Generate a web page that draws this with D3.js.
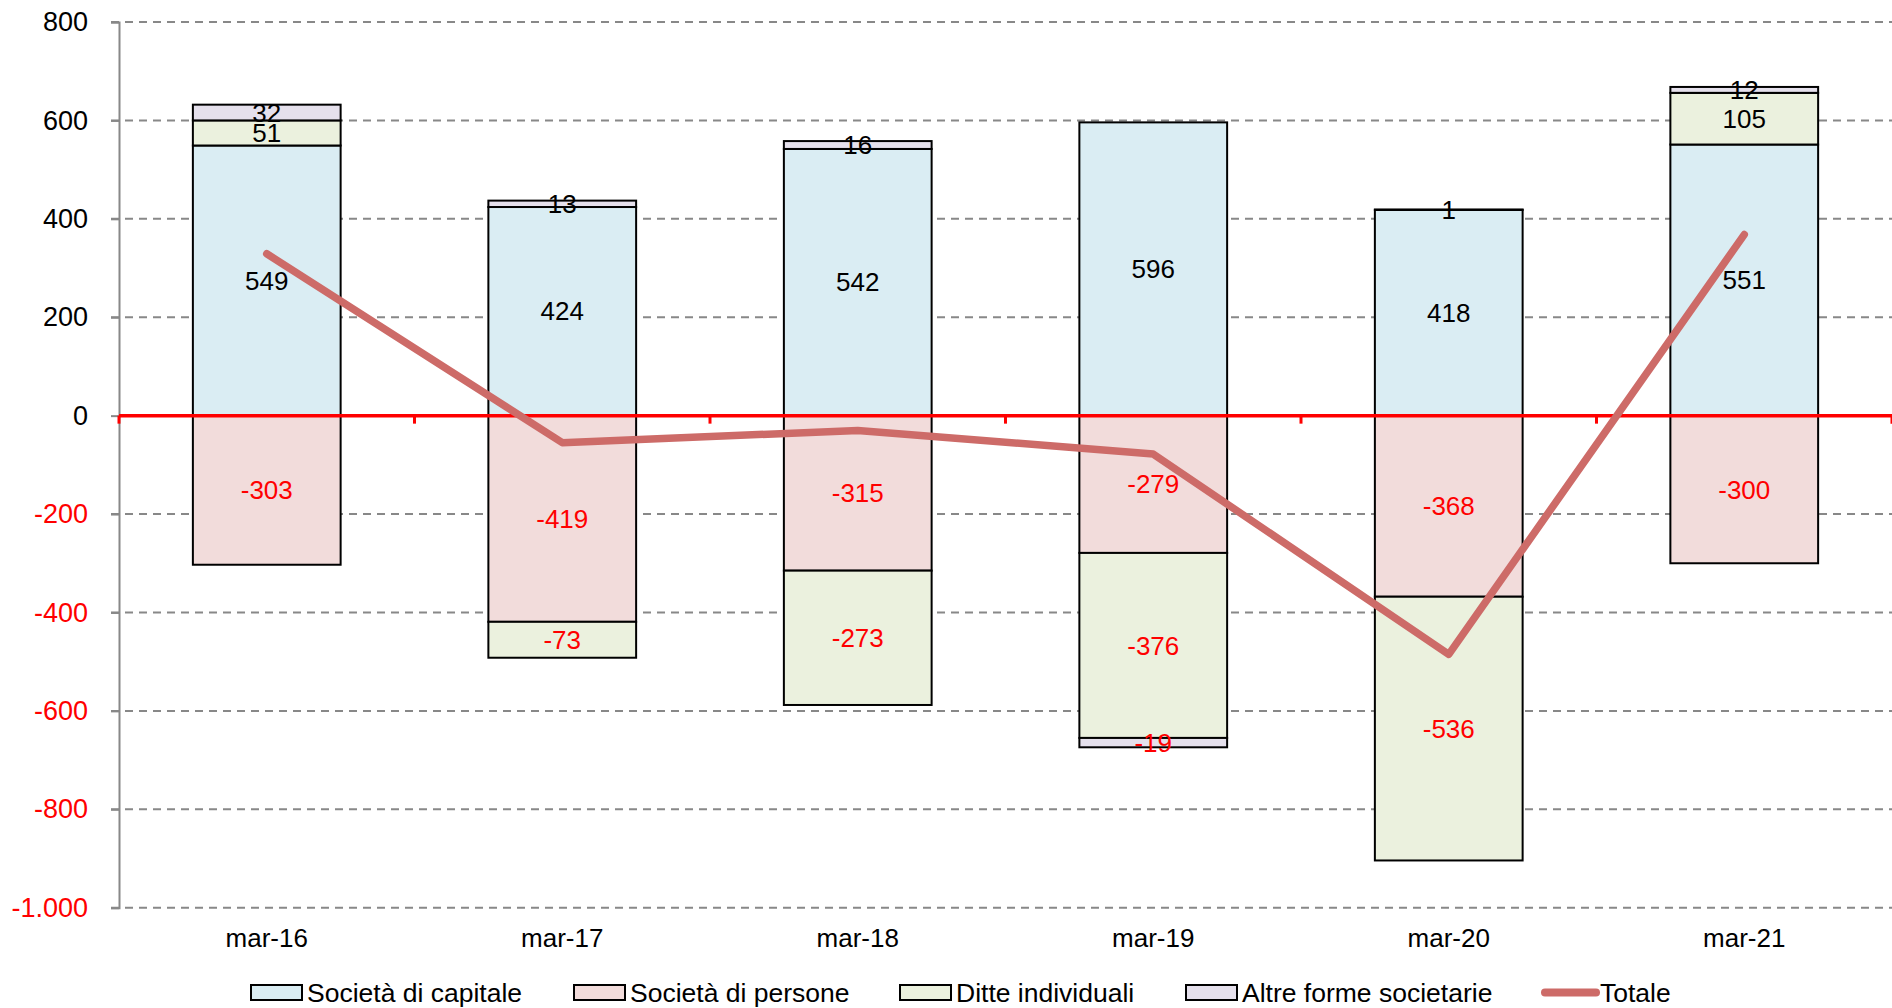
<!DOCTYPE html>
<html>
<head>
<meta charset="utf-8">
<script src="https://cdn.jsdelivr.net/npm/d3@7"></script>
<style>
  body { margin: 0; background: #fff; }
  text { font-family: "Liberation Sans", Arial, sans-serif; }
</style>
</head>
<body>
<div id="chart"></div>
<script>
const categories = ["mar-16", "mar-17", "mar-18", "mar-19", "mar-20", "mar-21"];
const capitale = [549, 424, 542, 596, 418, 551];
const persone = [-303, -419, -315, -279, -368, -300];
const ditte = [51, -73, -273, -376, -536, 105];
const altre = [32, 13, 16, -19, 1, 12];
const totale = [329, -55, -30, -78, -485, 368];
const yTicks = [800, 600, 400, 200, 0, -200, -400, -600, -800, -1000];

const seriesNames = ["Società di capitale", "Società di persone", "Ditte individuali", "Altre forme societarie"];
const seriesColors = ["#daedf3", "#f2dcdb", "#ebf1de", "#e5e0ec"];
const lineColor = "#cd6b68";

const width = 1892, height = 1008;
const margin = { top: 22, right: 0, bottom: 100, left: 119 };
const chartWidth = width - margin.left - margin.right;
const chartHeight = 1008 - margin.top - margin.bottom - 0.3;

const svg = d3.select("#chart").append("svg")
  .attr("width", width)
  .attr("height", height);

const x = d3.scaleBand()
  .domain(categories)
  .range([0, chartWidth])
  .paddingInner(0.5)
  .paddingOuter(0.25);

const y = d3.scaleLinear()
  .domain([-1000, 800])
  .range([chartHeight, 0]);

const chart = svg.append("g")
  .attr("transform", `translate(${margin.left},${margin.top})`);

// grid
chart.append("g")
  .selectAll("line")
  .data(yTicks.filter(d => d !== 0))
  .enter()
  .append("line")
  .attr("x1", -8)
  .attr("x2", chartWidth)
  .attr("y1", d => y(d))
  .attr("y2", d => y(d))
  .attr("stroke", "#888")
  .attr("stroke-width", 2)
  .attr("stroke-dasharray", "8,6");

// y axis
const itFormat = d3.formatLocale({ decimal: ",", thousands: ".", grouping: [3], currency: ["", "€"], minus: "-" }).format(",d");
const yAxis = chart.append("g")
  .call(d3.axisLeft(y).tickValues(yTicks).tickSize(8).tickPadding(23).tickFormat(itFormat));
yAxis.select(".domain").attr("stroke", "#888").attr("stroke-width", 2);
yAxis.selectAll(".tick line").attr("stroke", "#888").attr("stroke-width", 2);
yAxis.selectAll(".tick text")
  .attr("font-size", 27)
  .attr("fill", d => d < 0 ? "red" : "#000");

// stacked bars
const table = categories.map((c, i) => ({
  cat: c, s0: capitale[i], s1: persone[i], s2: ditte[i], s3: altre[i]
}));
const stack = d3.stack()
  .keys(["s0", "s1", "s2", "s3"])
  .offset(d3.stackOffsetDiverging);
const layers = stack(table);

const layerG = chart.append("g")
  .selectAll("g")
  .data(layers)
  .enter()
  .append("g")
  .attr("fill", (d, i) => seriesColors[i]);

layerG.selectAll("rect")
  .data(d => d)
  .enter()
  .append("rect")
  .attr("x", d => x(d.data.cat))
  .attr("y", d => y(d[1]))
  .attr("height", d => y(d[0]) - y(d[1]))
  .attr("width", x.bandwidth())
  .attr("stroke", "#000")
  .attr("stroke-width", 2);

// value labels
layers.forEach(layer => {
  chart.append("g")
    .selectAll("text")
    .data(layer)
    .enter()
    .append("text")
    .attr("x", d => x(d.data.cat) + x.bandwidth() / 2)
    .attr("y", d => y((d[0] + d[1]) / 2))
    .attr("dy", "0.35em")
    .attr("text-anchor", "middle")
    .attr("font-size", 26)
    .attr("fill", d => d.data[layer.key] < 0 ? "red" : "#000")
    .text(d => d.data[layer.key]);
});

// zero line with category separators
chart.append("line")
  .attr("x1", 0)
  .attr("x2", chartWidth)
  .attr("y1", y(0))
  .attr("y2", y(0))
  .attr("stroke", "red")
  .attr("stroke-width", 3.5);

chart.append("g")
  .selectAll("line")
  .data(d3.range(categories.length + 1))
  .enter()
  .append("line")
  .attr("x1", i => i * x.step())
  .attr("x2", i => i * x.step())
  .attr("y1", y(0))
  .attr("y2", y(0) + 8)
  .attr("stroke", "red")
  .attr("stroke-width", 3);

// category labels
chart.append("g")
  .selectAll("text")
  .data(categories)
  .enter()
  .append("text")
  .attr("x", d => x(d) + x.bandwidth() / 2)
  .attr("y", chartHeight + 39)
  .attr("text-anchor", "middle")
  .attr("font-size", 26)
  .text(d => d);

// totale line
const line = d3.line()
  .x((d, i) => x(categories[i]) + x.bandwidth() / 2)
  .y(d => y(d));

chart.append("path")
  .datum(totale)
  .attr("fill", "none")
  .attr("stroke", lineColor)
  .attr("stroke-width", 7.5)
  .attr("stroke-linecap", "round")
  .attr("stroke-linejoin", "round")
  .attr("d", line);

// legend
const legendX = [251, 574, 900, 1186, 1542];
const legend = svg.append("g");
seriesNames.forEach((name, i) => {
  legend.append("rect")
    .attr("x", legendX[i])
    .attr("y", 985)
    .attr("width", 51)
    .attr("height", 15)
    .attr("fill", seriesColors[i])
    .attr("stroke", "#000")
    .attr("stroke-width", 2);
  legend.append("text")
    .attr("x", legendX[i] + 56)
    .attr("y", 993)
    .attr("dy", "0.35em")
    .attr("font-size", 26.5)
    .text(name);
});
legend.append("line")
  .attr("x1", legendX[4] + 3)
  .attr("x2", legendX[4] + 54)
  .attr("y1", 992.5)
  .attr("y2", 992.5)
  .attr("stroke", lineColor)
  .attr("stroke-width", 8)
  .attr("stroke-linecap", "round");
legend.append("text")
  .attr("x", legendX[4] + 58)
  .attr("y", 993)
  .attr("dy", "0.35em")
  .attr("font-size", 26.5)
  .text("Totale");
</script>
</body>
</html>
